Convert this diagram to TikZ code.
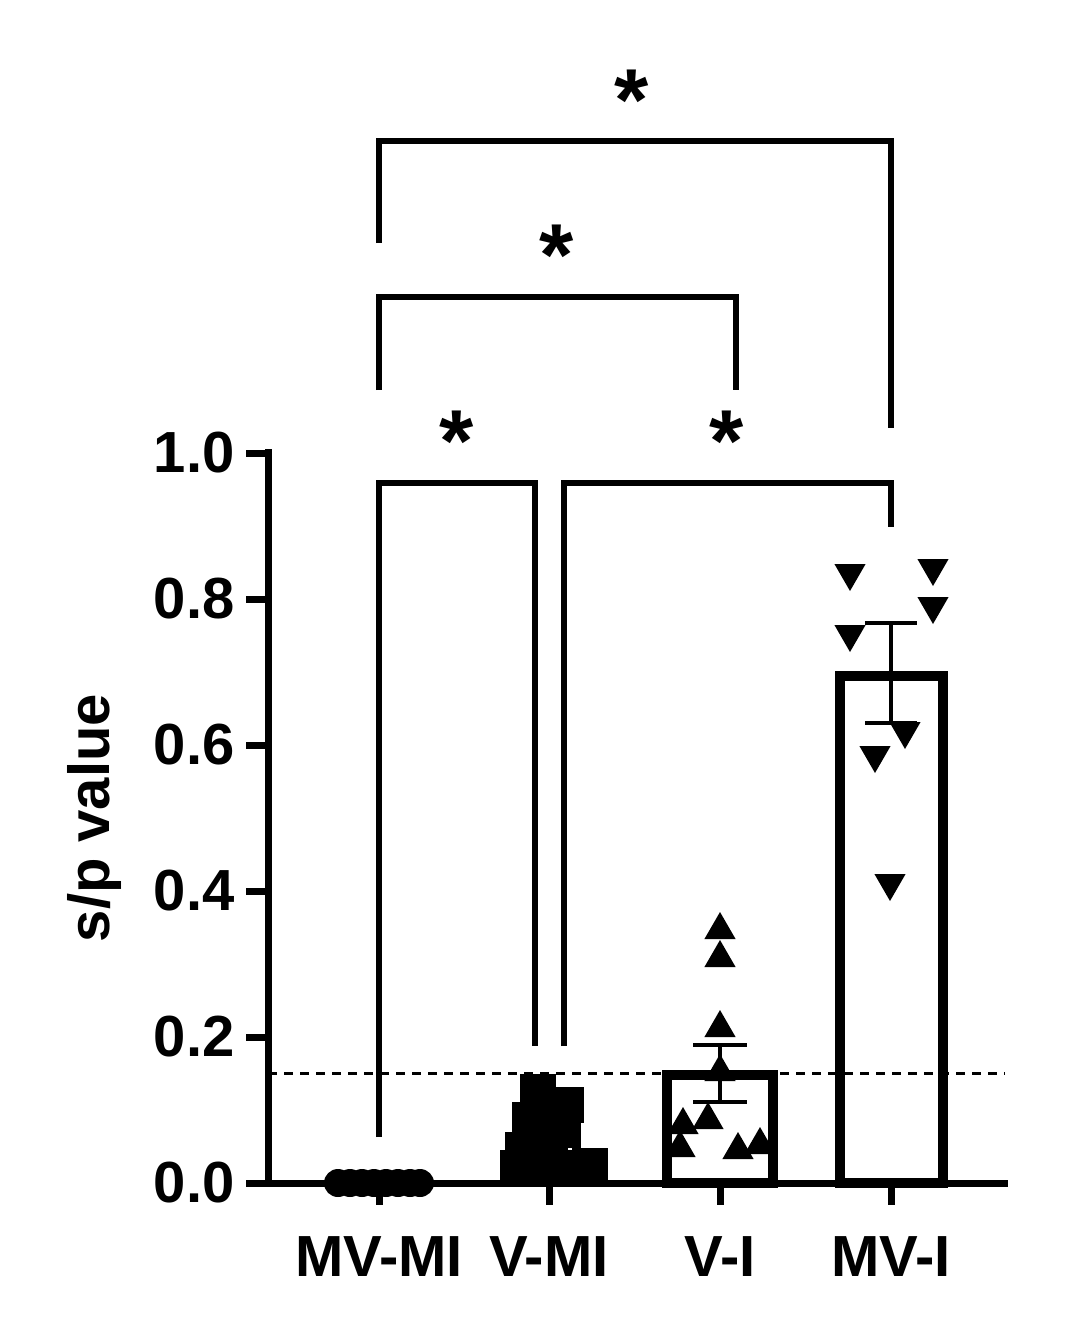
\documentclass[tikz,border=0pt]{standalone}
\usepackage{fontspec}
\setmainfont{Liberation Sans}
\begin{document}
\begin{tikzpicture}[x=1pt,y=-1pt,
 ln/.style={line width=7pt},
 br/.style={line width=6pt},
 lab/.style={font=\bfseries\fontsize{58}{58}\selectfont},
 star/.style={font=\bfseries\fontsize{88}{88}\selectfont},
 bar/.style={line width=10pt,fill=white},
 up/.style={regular polygon,regular polygon sides=3,fill=black,inner sep=0pt,minimum size=36pt},
 dn/.style={regular polygon,regular polygon sides=3,shape border rotate=180,fill=black,inner sep=0pt,minimum size=36pt},
 sq/.style={rectangle,fill=black,inner sep=0pt,minimum size=36pt},
 ci/.style={circle,fill=black,inner sep=0pt,minimum size=28pt}]
\usetikzlibrary{shapes.geometric}
\useasboundingbox (0,0) rectangle (1087,1323);
% bars
\draw[bar] (667,1183) rectangle (773,1075);
\draw[bar] (840,1183) rectangle (943,676);
% dashed
\draw[line width=3pt,dash pattern=on 9pt off 7pt] (268,1073) -- (1005,1073);
% axes
\draw[ln] (268,449) -- (268,1186);
\draw[ln] (265,1183) -- (1008,1183);
\foreach \v/\y in {0.0/1183,0.2/1037,0.4/891,0.6/745,0.8/599,1.0/453}{
 \draw[ln] (246,\y) -- (268,\y);
 \node[lab,anchor=east] (t\y) at (238,\y) {\v};}
\foreach \x in {379,549,720,891}{\draw[ln] (\x,1183) -- (\x,1205);}
\node[lab] (c1) at (379,1257) {MV-MI};
\node[lab] (c2) at (549,1257) {V-MI};
\node[lab] (c3) at (720,1257) {V-I};
\node[lab] (c4) at (891,1257) {MV-I};
\node[lab,rotate=90] (yl) at (95,818) {s/p value};
% markers
\foreach \x in {338,350,362,374,386,398,410,420}{\node[ci] at (\x,1183) {};}
\foreach \p in {(538,1092),(566,1105),(563,1130),(530,1120),(523,1150),(550,1155),(590,1166),(518,1168),(548,1168),(575,1168)}{\node[sq] at \p {};}
\foreach \p in {(720,930),(720,958),(720,1028),(720,1072),(683,1125),(708,1120),(680,1148),(760,1145),(738,1150)}{\node[up] at \p {};}
\foreach \p in {(850,573),(933,568),(933,606),(850,634),(905,731),(875,755),(890,883)}{\node[dn] at \p {};}
% error bars
\draw[line width=4pt] (865,623) -- (917,623) (891,623) -- (891,723) (865,723) -- (917,723);
\draw[line width=4pt] (693,1045) -- (747,1045) (720,1045) -- (720,1102) (693,1102) -- (747,1102);
% brackets
\draw[br] (379,243) -- (379,141) -- (891,141) -- (891,428);
\node[star] (s1) at (632,100) {*};
\draw[br] (379,390) -- (379,297) -- (736,297) -- (736,390);
\node[star] (s2) at (557,255) {*};
\draw[br] (379,1137) -- (379,483) -- (535,483) -- (535,1046);
\node[star] (s3) at (457,441) {*};
\draw[br] (564,1046) -- (564,483) -- (891,483) -- (891,527);
\node[star] (s4) at (727,441) {*};
\end{tikzpicture}
\end{document}
